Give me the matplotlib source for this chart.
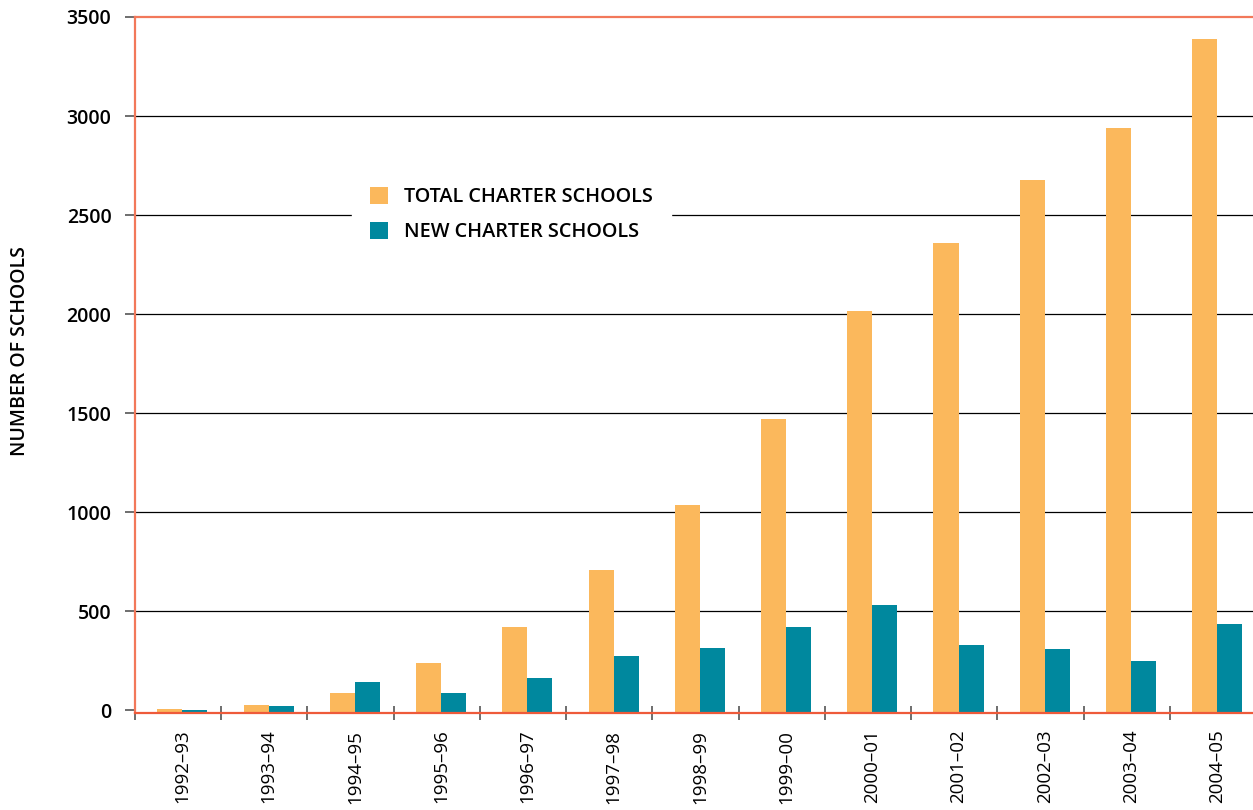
import matplotlib.pyplot as plt
import numpy as np

years = ['1992–93', '1993–94', '1994–95', '1995–96', '1996–97', '1997–98', '1998–99',
         '1999–00', '2000–01', '2001–02', '2002–03', '2003–04', '2004–05']
total_schools = [5, 25, 86, 237, 419, 707, 1035, 1470, 2015, 2359, 2677, 2939, 3389]
new_schools = [0, 22, 141, 86, 162, 273, 313, 419, 530, 328, 308, 247, 434]
y_ticks = [0, 500, 1000, 1500, 2000, 2500, 3000, 3500]

orange = '#FBB85C'
teal = '#00889E'
spine_col = '#F2785A'

plt.rcParams['font.family'] = ['Open Sans', 'DejaVu Sans']

fig = plt.figure(figsize=(12.53, 8.10), dpi=100)
ax = fig.add_axes([135 / 1253, 1 - 713 / 810, 1121 / 1253, 696 / 810])

x = np.arange(len(years))
w = 0.29
base = -15
shift = 0.05
ax.bar(x - w / 2 + shift, np.array(total_schools) - base, w, bottom=base, color=orange,
       label='TOTAL CHARTER SCHOOLS', zorder=2)
ax.bar(x + w / 2 + shift, np.array(new_schools) - base, w, bottom=base, color=teal,
       label='NEW CHARTER SCHOOLS', zorder=2)

# gridlines (not at 0 or top)
for t in y_ticks[1:-1]:
    ax.axhline(t, color='black', lw=0.9, zorder=1)

ax.set_ylim(base, 3500)
ax.set_xlim(-0.5, len(years) - 0.5)
ax.set_yticks(y_ticks)
ax.set_yticklabels([str(t) for t in y_ticks], fontsize=14, fontweight='semibold')
ax.tick_params(axis='y', length=7, width=1.2, color='#555555', pad=10)

ax.set_xticks(x + shift)
ax.set_xticklabels(years, rotation=90, fontsize=13.5)
ax.tick_params(axis='x', length=0, pad=12)
ax.set_xticks(np.arange(-0.5, len(years)), minor=True)
ax.tick_params(axis='x', which='minor', direction='inout', length=10, width=1.2, color='#555555')

for s in ['left', 'top']:
    ax.spines[s].set_color(spine_col)
    ax.spines[s].set_linewidth(1.6)
ax.spines['bottom'].set_color('#EE5A3A')
ax.spines['bottom'].set_linewidth(1.6)
ax.spines['right'].set_visible(False)

leg = ax.legend(loc='upper left', bbox_to_anchor=(352 / 1253, 1 - 169 / 810),
                bbox_transform=fig.transFigure, frameon=True, fancybox=False,
                edgecolor='white', facecolor='white', framealpha=1,
                prop={'size': 14.3, 'weight': 'semibold'}, borderpad=0.9,
                handlelength=0.93, handleheight=0.93, handletextpad=0.8,
                labelspacing=0.75, borderaxespad=0)
leg.set_zorder(5)

fig.text(20 / 1253, 1 - 351 / 810, 'NUMBER OF SCHOOLS', rotation=90, fontsize=14,
         fontweight='semibold', ha='center', va='center')

fig.savefig('out.png', dpi=100)
